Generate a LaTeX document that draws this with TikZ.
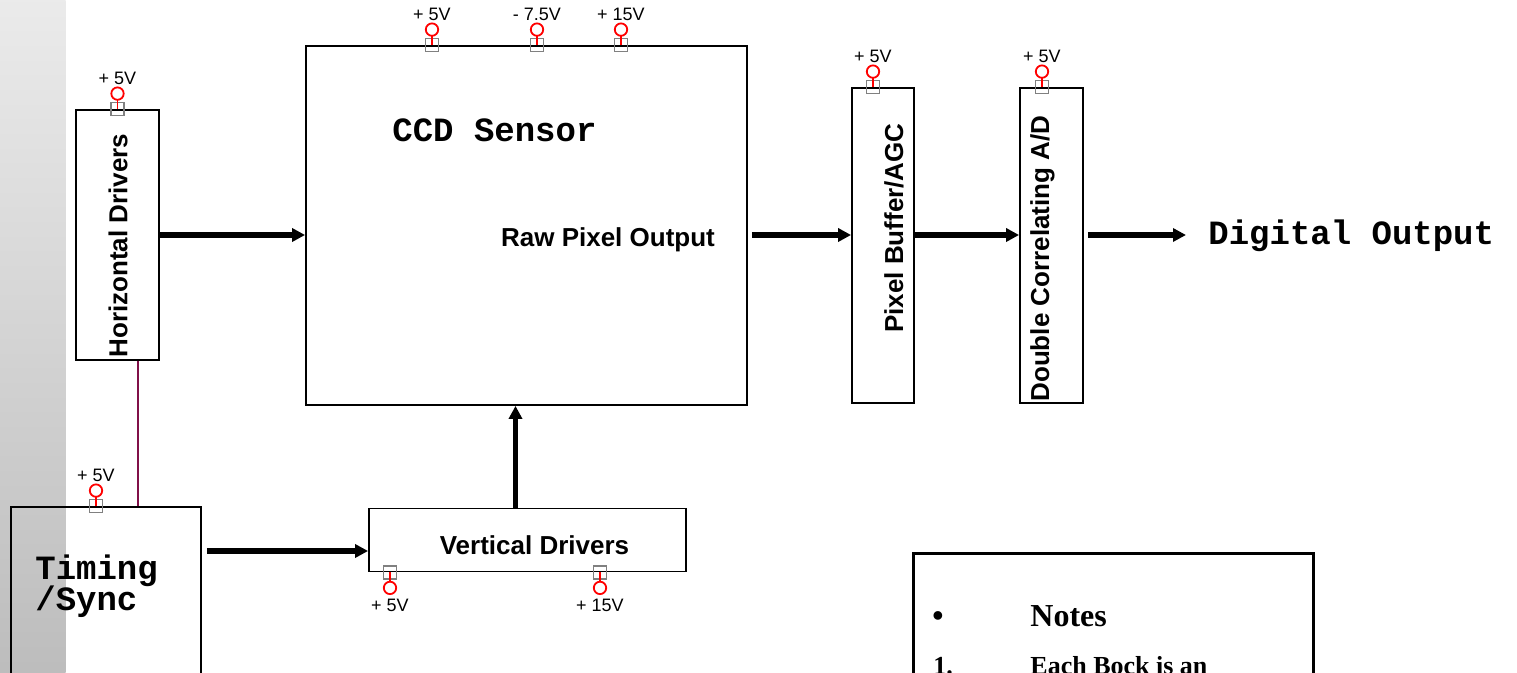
\documentclass[tikz,border=0pt]{standalone}
\usepackage{fontspec}
\setmainfont{Liberation Serif}
\setsansfont{Liberation Sans}
\setmonofont{Liberation Mono}
\usetikzlibrary{arrows.meta}
\definecolor{wirepurple}{RGB}{128,16,72}
\definecolor{pingray}{RGB}{128,128,128}
\tikzset{
  blk/.style={draw, line width=0.9pt, inner sep=0pt},
  lbl/.style={font=\sffamily\bfseries\fontsize{13}{15}\selectfont, inner sep=0pt},
  mono/.style={font=\ttfamily\bfseries\fontsize{17}{15}\selectfont, inner sep=0pt},
  pwr/.style={font=\sffamily\fontsize{9}{10}\selectfont, inner sep=0pt},
  pinsq/.style={draw=pingray, line width=0.9pt},
  pinred/.style={draw=red, line width=0.9pt},
  sig/.style={line width=2.6pt, -{Triangle[length=6.5pt,width=6.5pt]}},
}
% supply pin above / below a block edge
\newcommand{\pwrtop}[2]{%
  \begin{scope}[shift={(#1)}]
    \draw[pinsq] (-6.5,-6.5) rectangle (6.5,6.5);
    \draw[pinred] (0,0) -- (0,-9.5);
    \draw[pinred,fill=white] (0,-15.5) circle (3.1pt);
    \node[pwr] at (0,-31) {#2};
  \end{scope}}
\newcommand{\pwrbot}[2]{%
  \begin{scope}[shift={(#1)}]
    \draw[pinsq] (-6.5,-6.5) rectangle (6.5,6.5);
    \draw[pinred] (0,0) -- (0,9.5);
    \draw[pinred,fill=white] (0,15.5) circle (3.1pt);
    \node[pwr] at (0,33) {#2};
  \end{scope}}
\begin{document}
\begin{tikzpicture}[x=0.5pt,y=-0.5pt]
\useasboundingbox (0,0) rectangle (1517,673);
\clip (0,0) rectangle (1517,673);
\shade[top color=gray!16, bottom color=gray!52] (0,0) rectangle (65.5,673);

% blocks
\node[blk, minimum width=41.5pt, minimum height=125pt] (hdrv) at (117.5,235) {};
\node[blk, minimum width=220.5pt, minimum height=179.5pt] (ccd) at (526.5,225.5) {};
\node[blk, minimum width=31pt, minimum height=157.5pt] (pbuf) at (883,245.5) {};
\node[blk, minimum width=31.5pt, minimum height=157.5pt] (dcad) at (1051.5,245.5) {};
\node[blk, minimum width=158.5pt, minimum height=31.5pt] (vdrv) at (527.5,540) {};
\node[blk, minimum width=95pt, minimum height=100pt] (tmg) at (106,607) {};
\node[blk, line width=1.5pt, minimum width=200pt, minimum height=80pt] (notes) at (1113,634) {};

% texts
\node[lbl, rotate=90, anchor=west] (hdrvtxt) at (118,358) {Horizontal Drivers};
\node[lbl, rotate=90] (pbuftxt) at (894,228) {Pixel Buffer/AGC};
\node[lbl, rotate=90, anchor=west] (dcadtxt) at (1042.5,402) {Double Correlating A/D};
\node[mono, anchor=base west] (ccdtxt) at (392,142) {CCD Sensor};
\node[lbl] (rawtxt) at (608,240) {Raw Pixel Output};
\node[lbl, anchor=base] (vdrvtxt) at (534.5,555) {Vertical Drivers};
\node[mono, anchor=base west] (tmgtxt) at (35,580) {Timing};
\node[mono, anchor=base west] (synctxt) at (35,611) {/Sync};
\node[mono, anchor=base west] (out) at (1208,245) {Digital Output};

% notes
\node[font=\bfseries\fontsize{16}{18}\selectfont, anchor=base, inner sep=0pt] (bul) at (938,627) {•};
\node[font=\bfseries\fontsize{16}{18}\selectfont, anchor=base west, inner sep=0pt] (notehd) at (1030,627) {Notes};
\node[font=\bfseries\fontsize{13}{15}\selectfont, anchor=base west, inner sep=0pt] (n1) at (933,675) {1.};
\node[font=\bfseries\fontsize{13}{15}\selectfont, anchor=base west, inner sep=0pt] (n1txt) at (1030,675) {Each Bock is an};

% signal path
\draw[sig] (hdrv.east) -- (ccd.west |- hdrv.east);
\draw[sig, shorten <=2pt] (ccd.east |- hdrv.east) -- (pbuf.west |- hdrv.east);
\draw[sig] (pbuf.east |- hdrv.east) -- (dcad.west |- hdrv.east);
\draw[sig, shorten <=2pt, shorten >=11pt] (dcad.east |- hdrv.east) -- (out.west |- hdrv.east);
\coordinate (tv) at (0,551);
\draw[sig, shorten <=2.5pt] (tmg.east |- tv) -- (vdrv.west |- tv);
\draw[sig] ([xshift=-6pt]vdrv.north) -- ([xshift=-6pt]vdrv.north |- ccd.south);
\draw[wirepurple, line width=0.8pt] ([xshift=10.25pt]hdrv.south) -- ([xshift=10.25pt]hdrv.south |- tmg.north);

% supplies
\pwrtop{hdrv.north}{+ 5V}
\pwrtop{ccd.north -| 432,0}{+ 5V}
\pwrtop{ccd.north -| 537,0}{- 7.5V}
\pwrtop{ccd.north -| 621,0}{+ 15V}
\pwrtop{pbuf.north -| 873,0}{+ 5V}
\pwrtop{dcad.north -| 1042,0}{+ 5V}
\pwrtop{tmg.north -| 96,0}{+ 5V}
\pwrbot{vdrv.south -| 390,0}{+ 5V}
\pwrbot{vdrv.south -| 600,0}{+ 15V}
\end{tikzpicture}
\end{document}
